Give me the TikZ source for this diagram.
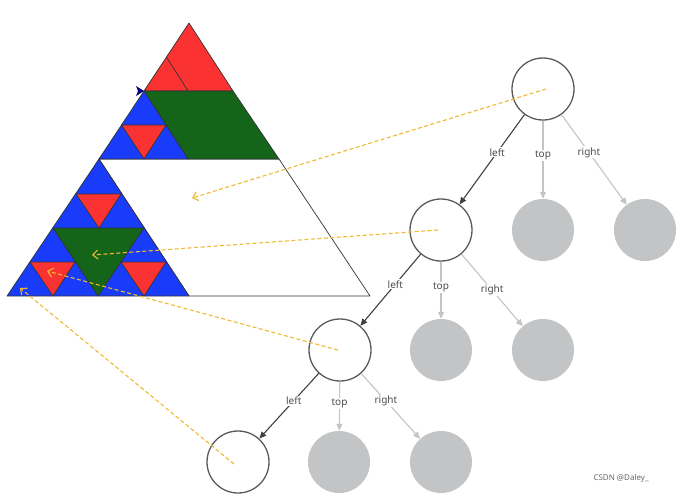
\documentclass[tikz,border=0pt]{standalone}
\usepackage{fontspec}
\setmainfont{Noto Sans}
\usetikzlibrary{arrows.meta}
\definecolor{tred}{RGB}{250,50,50}
\definecolor{tgreen}{RGB}{20,100,25}
\definecolor{tblue}{RGB}{25,60,250}
\definecolor{ngray}{RGB}{194,196,197}
\definecolor{ey}{RGB}{240,185,50}
\begin{document}
\begin{tikzpicture}[x=1pt,y=-1pt,
  tri/.style={draw=black!80,line width=0.7pt,line join=round},
  on/.style={circle,draw=black!65,line width=1.3pt,fill=white,minimum size=62pt,inner sep=0pt},
  off/.style={circle,fill=ngray,minimum size=62pt,inner sep=0pt},
  lab/.style={font=\fontsize{10}{12}\selectfont,text=black!70,fill=white,inner sep=1pt},
  dark/.style={draw=black!75,line width=1.1pt,-{Triangle[length=7pt,width=6pt]}},
  light/.style={draw=ngray,line width=1.1pt,-{Triangle[length=7pt,width=6pt]}},
  yel/.style={draw=ey,line width=1.1pt,dash pattern=on 4pt off 2.5pt,-{Straight Barb[length=5pt,width=9pt]}}]
\useasboundingbox (0,0) rectangle (682,498);
% triangle
\fill[white] (189,23) -- (7,296) -- (370,296) -- cycle;
\draw[tri,fill=white] (99,159) -- (279,159) -- (370,296) -- (189,296) -- cycle;
\draw[tri,fill=tred] (189,23) -- (144,91) -- (233,91) -- cycle;
\draw[tri] (166.5,57) -- (188,91);
\draw[tri,fill=tgreen] (144,91) -- (233,91) -- (279,159) -- (188,159) -- cycle;
\draw[tri,fill=tblue] (144,91) -- (99,159) -- (188,159) -- cycle;
\draw[tri,fill=tred] (121.5,125) -- (166,125) -- (144,159) -- cycle;
\draw[tri,fill=tblue] (99,159) -- (7,296) -- (189,296) -- cycle;
\draw[tri,fill=tgreen] (53,228) -- (144,228) -- (98,296) -- cycle;
\draw[tri,fill=tred] (76,194) -- (121,194) -- (99,228) -- cycle;
\draw[tri,fill=tred] (30,262) -- (75,262) -- (53,296) -- cycle;
\draw[tri,fill=tred] (121,262) -- (166,262) -- (144,296) -- cycle;
\fill[blue!50!black] (144,91) -- (136,86) -- (138,91) -- (136,96) -- cycle;
% tree
\node[on] (r) at (543,89) {};
\node[on] (a) at (441,230) {};
\node[off] (b) at (543,230) {};
\node[off] (c) at (645,230) {};
\node[on] (d) at (340,350) {};
\node[off] (e) at (441,350) {};
\node[off] (f) at (543,350) {};
\node[on] (g) at (238,462) {};
\node[off] (h) at (339,462) {};
\node[off] (i) at (441,462) {};
\draw[dark] (r) -- node[lab,pos=0.42]{left} (a);
\draw[light] (r) -- node[lab,pos=0.45]{top} (b);
\draw[light] (r) -- node[lab,pos=0.42]{right} (c);
\draw[dark] (a) -- node[lab,pos=0.42]{left} (d);
\draw[light] (a) -- node[lab,pos=0.45]{top} (e);
\draw[light] (a) -- node[lab,pos=0.5]{right} (f);
\draw[dark] (d) -- node[lab,pos=0.42]{left} (g);
\draw[light] (d) -- node[lab,pos=0.45]{top} (h);
\draw[light] (d) -- node[lab,pos=0.42]{right} (i);
% mapping arrows
\coordinate (t1) at (192,198);
\coordinate (t2) at (92,255);
\coordinate (t3) at (47,271);
\coordinate (t4) at (20,288);
\draw[yel] ([xshift=3pt]r.center) -- (t1);
\draw[yel] ([xshift=-3pt]a.center) -- (t2);
\draw[yel] ([xshift=-2pt]d.center) -- (t3);
\draw[yel] ([xshift=-4pt,yshift=-2pt]g.center) -- (t4);
\node[font=\fontsize{8}{9}\selectfont,text=black!60,anchor=west] (wm) at (590,478) {CSDN @Daley\_};
\end{tikzpicture}
\end{document}
